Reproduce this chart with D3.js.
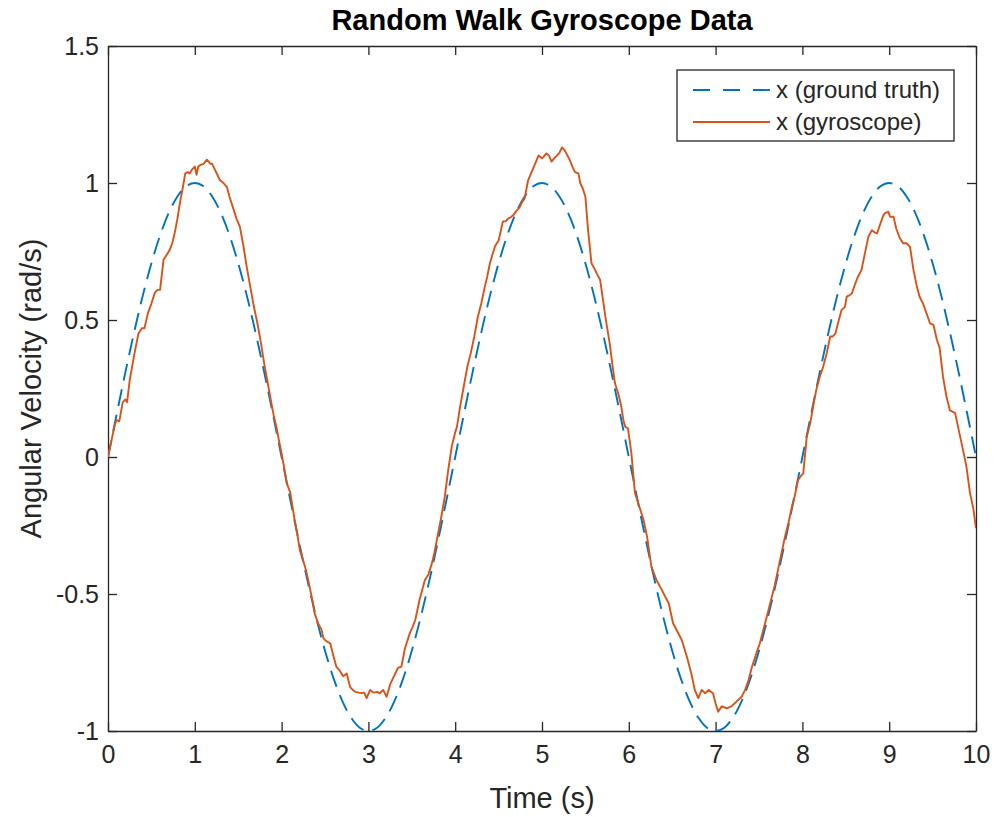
<!DOCTYPE html>
<html><head><meta charset="utf-8">
<script src="https://cdn.jsdelivr.net/npm/d3@7"></script>
<style>
html,body{margin:0;padding:0;background:#fff;}
svg{display:block;font-family:"Liberation Sans",Arial,Helvetica,sans-serif;}
</style></head>
<body><svg id="chart" width="994" height="817"></svg>
<script>
const titleText = "Random Walk Gyroscope Data";
const xLabel = "Time (s)";
const yLabel = "Angular Velocity (rad/s)";
const seriesNames = ["x (ground truth)", "x (gyroscope)"];
const xTicks = [0,1,2,3,4,5,6,7,8,9,10];
const yTicks = [-1,-0.5,0,0.5,1,1.5];

// ground truth, sampled every 0.1 s
const truthT = [0,0.1,0.2,0.3,0.4,0.5,0.6,0.7,0.8,0.9,1,1.1,1.2,1.3,1.4,1.5,1.6,1.7,1.8,1.9,
2,2.1,2.2,2.3,2.4,2.5,2.6,2.7,2.8,2.9,3,3.1,3.2,3.3,3.4,3.5,3.6,3.7,3.8,3.9,
4,4.1,4.2,4.3,4.4,4.5,4.6,4.7,4.8,4.9,5,5.1,5.2,5.3,5.4,5.5,5.6,5.7,5.8,5.9,
6,6.1,6.2,6.3,6.4,6.5,6.6,6.7,6.8,6.9,7,7.1,7.2,7.3,7.4,7.5,7.6,7.7,7.8,7.9,
8,8.1,8.2,8.3,8.4,8.5,8.6,8.7,8.8,8.9,9,9.1,9.2,9.3,9.4,9.5,9.6,9.7,9.8,9.9,10];
const truthV = [0,0.156,0.309,0.454,0.588,0.707,0.809,0.891,0.951,0.988,1,0.988,0.951,0.891,0.809,0.707,0.588,0.454,0.309,0.156,
0,-0.156,-0.309,-0.454,-0.588,-0.707,-0.809,-0.891,-0.951,-0.988,-1,-0.988,-0.951,-0.891,-0.809,-0.707,-0.588,-0.454,-0.309,-0.156,
0,0.156,0.309,0.454,0.588,0.707,0.809,0.891,0.951,0.988,1,0.988,0.951,0.891,0.809,0.707,0.588,0.454,0.309,0.156,
0,-0.156,-0.309,-0.454,-0.588,-0.707,-0.809,-0.891,-0.951,-0.988,-1,-0.988,-0.951,-0.891,-0.809,-0.707,-0.588,-0.454,-0.309,-0.156,
0,0.156,0.309,0.454,0.588,0.707,0.809,0.891,0.951,0.988,1,0.988,0.951,0.891,0.809,0.707,0.588,0.454,0.309,0.156,0];

// gyroscope readings
const gyroT = [0,0.04,0.08,0.10,0.13,0.17,0.20,0.22,0.25,0.30,0.35,0.39,0.42,0.46,0.50,0.54,0.57,0.60,0.64,0.68,
0.71,0.74,0.77,0.80,0.83,0.86,0.89,0.92,0.94,0.97,1.00,1.02,1.04,1.06,1.10,1.14,1.18,1.20,1.23,1.26,
1.29,1.33,1.37,1.40,1.44,1.48,1.52,1.56,1.60,1.64,1.68,1.72,1.76,1.80,1.84,1.88,1.91,1.94,1.97,2.00,
2.03,2.06,2.10,2.15,2.18,2.21,2.24,2.27,2.30,2.33,2.36,2.38,2.42,2.46,2.48,2.50,2.53,2.56,2.60,2.63,
2.67,2.71,2.75,2.79,2.82,2.85,2.89,2.92,2.95,2.98,3.02,3.06,3.10,3.13,3.17,3.21,3.25,3.28,3.31,3.34,
3.38,3.42,3.45,3.48,3.51,3.54,3.59,3.65,3.69,3.73,3.76,3.79,3.84,3.88,3.92,3.96,4.00,4.02,4.06,4.10,
4.14,4.18,4.22,4.26,4.30,4.34,4.37,4.40,4.43,4.46,4.50,4.55,4.58,4.61,4.64,4.67,4.71,4.74,4.77,4.80,
4.84,4.88,4.92,4.96,5.00,5.02,5.05,5.08,5.11,5.14,5.17,5.20,5.23,5.26,5.28,5.32,5.35,5.38,5.42,5.44,
5.47,5.50,5.53,5.57,5.60,5.63,5.67,5.70,5.73,5.78,5.81,5.84,5.88,5.91,5.94,5.96,5.99,6.03,6.07,6.11,
6.14,6.17,6.21,6.26,6.32,6.38,6.42,6.46,6.51,6.57,6.61,6.67,6.72,6.76,6.80,6.84,6.88,6.92,6.97,7.00,
7.03,7.07,7.13,7.18,7.24,7.30,7.34,7.38,7.42,7.47,7.51,7.55,7.60,7.64,7.68,7.72,7.76,7.80,7.84,7.88,
7.91,7.95,7.98,8.01,8.05,8.09,8.13,8.16,8.20,8.24,8.28,8.32,8.35,8.38,8.41,8.45,8.49,8.51,8.54,8.57,
8.61,8.64,8.68,8.72,8.76,8.80,8.83,8.86,8.90,8.93,8.95,8.99,9.01,9.05,9.08,9.12,9.16,9.20,9.24,9.28,
9.32,9.35,9.39,9.43,9.47,9.51,9.55,9.58,9.62,9.66,9.70,9.76,9.80,9.85,9.89,9.93,9.97,10.00];
const gyroV = [0,0.06,0.12,0.135,0.13,0.20,0.21,0.20,0.28,0.37,0.45,0.47,0.47,0.525,0.56,0.60,0.61,0.61,0.72,0.74,
0.755,0.78,0.82,0.87,0.93,0.98,1.035,1.04,1.035,1.05,1.06,1.03,1.06,1.065,1.07,1.085,1.07,1.07,1.05,1.03,
1.01,1.00,0.985,0.95,0.91,0.87,0.84,0.77,0.69,0.62,0.55,0.49,0.42,0.34,0.27,0.20,0.15,0.11,0.06,0.013,
-0.04,-0.096,-0.13,-0.23,-0.28,-0.34,-0.37,-0.40,-0.44,-0.485,-0.53,-0.57,-0.607,-0.63,-0.66,-0.668,-0.675,-0.68,-0.73,-0.765,
-0.78,-0.80,-0.79,-0.84,-0.85,-0.857,-0.86,-0.862,-0.86,-0.88,-0.85,-0.86,-0.857,-0.862,-0.85,-0.875,-0.83,-0.81,-0.79,-0.77,
-0.765,-0.70,-0.67,-0.64,-0.62,-0.595,-0.52,-0.45,-0.43,-0.39,-0.35,-0.30,-0.218,-0.145,-0.047,0.038,0.09,0.11,0.19,0.26,
0.33,0.38,0.44,0.51,0.56,0.62,0.66,0.707,0.74,0.77,0.79,0.86,0.86,0.87,0.875,0.883,0.90,0.91,0.93,0.944,
1.01,1.04,1.07,1.10,1.09,1.096,1.108,1.10,1.078,1.09,1.10,1.11,1.13,1.12,1.108,1.084,1.06,1.04,1.035,1.00,
0.98,0.95,0.83,0.707,0.69,0.67,0.646,0.58,0.512,0.415,0.34,0.27,0.23,0.19,0.13,0.11,0.105,0.013,-0.13,-0.17,
-0.20,-0.23,-0.29,-0.40,-0.45,-0.485,-0.51,-0.534,-0.607,-0.643,-0.668,-0.73,-0.79,-0.85,-0.88,-0.85,-0.862,-0.85,-0.862,-0.90,
-0.93,-0.91,-0.917,-0.91,-0.893,-0.875,-0.85,-0.814,-0.765,-0.716,-0.68,-0.63,-0.57,-0.52,-0.47,-0.41,-0.35,-0.29,-0.24,-0.18,
-0.145,-0.084,-0.07,-0.06,0.074,0.123,0.196,0.245,0.293,0.33,0.378,0.44,0.44,0.45,0.488,0.536,0.548,0.585,0.59,0.597,
0.634,0.658,0.682,0.743,0.804,0.828,0.82,0.816,0.853,0.88,0.89,0.895,0.877,0.877,0.835,0.80,0.78,0.78,0.767,0.682,
0.62,0.585,0.56,0.524,0.488,0.482,0.427,0.40,0.293,0.22,0.17,0.16,0.10,0.026,-0.035,-0.13,-0.19,-0.26];

const colors = ["#0072BD", "#D95319"];
const axisColor = "#262626";
const fontFam = '"Liberation Sans",Arial,Helvetica,sans-serif';

const margin = {left:108, top:46, right:994-976, bottom:817-731};
const W = 994, H = 817;
const svg = d3.select("#chart");
const x = d3.scaleLinear().domain([0,10]).range([margin.left, W - margin.right]);
const y = d3.scaleLinear().domain([-1,1.5]).range([H - margin.bottom, margin.top]);

const tickLen = 9;
const fmt = d => String(d);
const gx = svg.append("g").attr("transform", `translate(0,${y(-1)})`)
  .call(d3.axisBottom(x).tickValues(xTicks).tickSizeInner(-tickLen).tickSizeOuter(0).tickPadding(14).tickFormat(fmt));
const gxTop = svg.append("g").attr("transform", `translate(0,${y(1.5)})`)
  .call(d3.axisTop(x).tickValues(xTicks).tickSizeInner(-tickLen).tickSizeOuter(0).tickFormat(""));
const gy = svg.append("g").attr("transform", `translate(${x(0)},0)`)
  .call(d3.axisLeft(y).tickValues(yTicks).tickSizeInner(-tickLen).tickSizeOuter(0).tickPadding(9).tickFormat(fmt));
const gyR = svg.append("g").attr("transform", `translate(${x(10)},0)`)
  .call(d3.axisRight(y).tickValues(yTicks).tickSizeInner(-tickLen).tickSizeOuter(0).tickFormat(""));

[gx,gxTop,gy,gyR].forEach(g => {
  g.select(".domain").attr("stroke", axisColor).attr("stroke-width", 1.3);
  g.selectAll(".tick line").attr("stroke", axisColor).attr("stroke-width", 1.3);
  g.selectAll(".tick text").attr("fill", axisColor).attr("font-size", 25)
   .attr("font-family", fontFam);
});

svg.append("clipPath").attr("id","clip").append("rect")
  .attr("x", x(0)).attr("y", y(1.5)).attr("width", x(10)-x(0)).attr("height", y(-1)-y(1.5));

const truthData = truthT.map((t,i) => [t, truthV[i]]);
const gyroData = gyroT.map((t,i) => [t, gyroV[i]]);

const plot = svg.append("g").attr("clip-path","url(#clip)");
plot.append("path")
  .attr("d", d3.line().x(d => x(d[0])).y(d => y(d[1])).curve(d3.curveCatmullRom)(truthData))
  .attr("fill","none").attr("stroke", colors[0]).attr("stroke-width", 1.9)
  .attr("stroke-dasharray","17,9");
plot.append("path")
  .attr("d", d3.line().x(d => x(d[0])).y(d => y(d[1]))(gyroData))
  .attr("fill","none").attr("stroke", colors[1]).attr("stroke-width", 1.9)
  .attr("stroke-linejoin","round");

// title and labels
svg.append("text").attr("x", (x(0)+x(10))/2).attr("y", 30).attr("text-anchor","middle")
  .attr("font-size", 29).attr("font-weight","bold").attr("fill","#000").text(titleText);
svg.append("text").attr("x", (x(0)+x(10))/2).attr("y", 808).attr("text-anchor","middle")
  .attr("font-size", 29).attr("fill", axisColor).text(xLabel);
svg.append("text").attr("transform", `translate(41,${(y(-1)+y(1.5))/2}) rotate(-90)`).attr("text-anchor","middle")
  .attr("font-size", 29).attr("fill", axisColor).text(yLabel);

// legend
const lg = svg.append("g");
lg.append("rect").attr("x", 677).attr("y", 70).attr("width", 277).attr("height", 71)
  .attr("fill","#fff").attr("stroke", axisColor).attr("stroke-width", 1.3);
seriesNames.forEach((name, i) => {
  const ly = 90 + i*32;
  lg.append("line").attr("x1", 693).attr("x2", 770).attr("y1", ly).attr("y2", ly)
    .attr("stroke", colors[i]).attr("stroke-width", 1.9)
    .attr("stroke-dasharray", i === 0 ? "17,13" : null);
  lg.append("text").attr("x", 776).attr("y", ly).attr("dy","0.35em")
    .attr("font-size", 24).attr("fill", axisColor).text(name);
});
</script>
</body></html>
